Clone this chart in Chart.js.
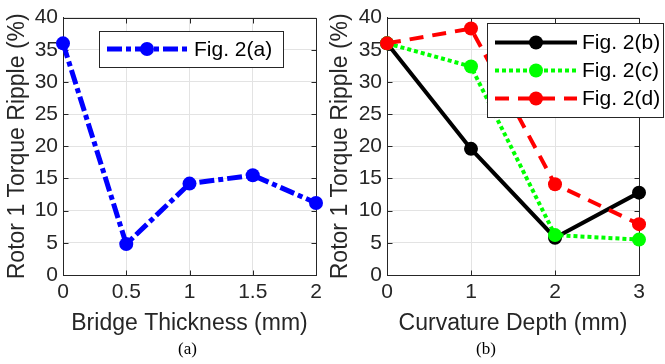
<!DOCTYPE html>
<html>
<head>
<meta charset="utf-8">
<script src="https://cdn.jsdelivr.net/npm/chart.js@4"></script>
<style>
  body { margin: 0; background: #fff; width: 665px; height: 364px; overflow: hidden; position: relative; }
  canvas { position: absolute; left: 0; top: 0; }
  .cap { position: absolute; font-family: "Liberation Serif", "Times New Roman", serif; font-size: 17px; color: #000; line-height: 1; }
</style>
</head>
<body>
<canvas id="chartA" width="665" height="364"></canvas>
<canvas id="chartB" width="665" height="364"></canvas>
<div class="cap" style="left:178px; top:340px;">(a)</div>
<div class="cap" style="left:476px; top:340px;">(b)</div>
<script>
// values
const thickness = [0, 0.5, 1, 1.5, 2];
const rippleA = [36, 4.8, 14.2, 15.5, 11.2];

const depth = [0, 1, 2, 3];
const rippleB = [36, 19.6, 5.8, 12.8];
const rippleC = [36, 32.4, 6.2, 5.5];
const rippleD = [36, 38.3, 14.1, 7.9];

const FONT = '"Liberation Sans", Arial, Helvetica, sans-serif';
const AXIS_COLOR = '#262626';

const pts = (xs, ys) => xs.map((x, i) => ({ x: x, y: ys[i] }));

// top/right sides of the axes box + inward tick marks (matlab "box on")
const frame = {
    id: 'frame',
    beforeDatasetsDraw(chart) {
        const { ctx, chartArea: a, scales } = chart;
        const L = Math.round(a.left) + 0.5, R = Math.round(a.right) + 0.5;
        const T = Math.round(a.top) + 0.5, B = Math.round(a.bottom) + 0.5;
        const len = 5;
        ctx.save();
        ctx.strokeStyle = AXIS_COLOR;
        ctx.lineWidth = 1;
        ctx.beginPath();
        ctx.moveTo(L, T);
        ctx.lineTo(R, T);
        ctx.lineTo(R, B);
        scales.x.ticks.forEach(t => {
            const px = Math.round(scales.x.getPixelForValue(t.value)) + 0.5;
            ctx.moveTo(px, B); ctx.lineTo(px, B - len);
            ctx.moveTo(px, T); ctx.lineTo(px, T + len);
        });
        scales.y.ticks.forEach(t => {
            const py = Math.round(scales.y.getPixelForValue(t.value)) + 0.5;
            ctx.moveTo(L, py); ctx.lineTo(L + len, py);
            ctx.moveTo(R, py); ctx.lineTo(R - len, py);
        });
        ctx.stroke();
        ctx.restore();
    }
};

// matlab style legend box with line + marker samples
const boxLegend = {
    id: 'boxLegend',
    afterDatasetsDraw(chart, args, opts) {
        const ctx = chart.ctx;
        ctx.save();
        ctx.fillStyle = '#fff';
        ctx.fillRect(opts.x, opts.y, opts.w, opts.h);
        ctx.strokeStyle = AXIS_COLOR;
        ctx.lineWidth = 1;
        ctx.strokeRect(opts.x + 0.5, opts.y + 0.5, opts.w, opts.h);
        opts.items.forEach((idx, i) => {
            const ds = chart.data.datasets[idx];
            const y = opts.rowY[i];
            ctx.beginPath();
            ctx.setLineDash(ds.borderDash || []);
            ctx.lineWidth = ds.borderWidth;
            ctx.strokeStyle = ds.borderColor;
            ctx.moveTo(opts.lineX0, y);
            ctx.lineTo(opts.lineX1, y);
            ctx.stroke();
            ctx.setLineDash([]);
            ctx.beginPath();
            ctx.arc(opts.markX, y, ds.pointRadius, 0, Math.PI * 2);
            ctx.fillStyle = ds.backgroundColor;
            ctx.fill();
            ctx.fillStyle = '#000';
            ctx.font = '21px ' + FONT;
            ctx.textBaseline = 'middle';
            ctx.fillText(ds.label, opts.textX, y + 1);
        });
        ctx.restore();
    }
};

function axes(xMax, xStep, xTitle, yWidth) {
    return {
        x: {
            type: 'linear', min: 0, max: xMax,
            afterFit: s => { s.height = 62; },
            ticks: { stepSize: xStep, color: AXIS_COLOR, padding: 5, font: { family: FONT, size: 21 },
                     callback: v => String(v) },
            grid: { color: '#e3e3e3', drawTicks: false },
            border: { color: AXIS_COLOR, width: 1 },
            title: { display: true, text: xTitle, color: AXIS_COLOR, padding: 0, font: { family: FONT, size: 23 } }
        },
        y: {
            min: 0, max: 40,
            afterFit: s => { s.width = yWidth; },
            ticks: { stepSize: 5, color: AXIS_COLOR, padding: 5, font: { family: FONT, size: 21 } },
            grid: { color: '#e3e3e3', drawTicks: false },
            border: { color: AXIS_COLOR, width: 1 },
            title: { display: true, text: 'Rotor 1 Torque Ripple (%)', color: AXIS_COLOR, padding: 0, font: { family: FONT, size: 23 } }
        }
    };
}

const chartA = new Chart(document.getElementById('chartA').getContext('2d'), {
    type: 'line',
    data: {
        datasets: [{
            label: 'Fig. 2(a)',
            data: pts(thickness, rippleA),
            borderColor: '#0000ff',
            backgroundColor: '#0000ff',
            borderWidth: 5,
            borderDash: [15, 4, 5, 4],
            pointRadius: 7,
            pointBorderWidth: 0,
            clip: false,
        }]
    },
    options: {
        responsive: false,
        animation: false,
        layout: { padding: { left: 4, right: 349, top: 17, bottom: 27 } },
        scales: axes(2, 0.5, 'Bridge Thickness (mm)', 59),
        plugins: {
            legend: { display: false },
            tooltip: { enabled: false },
            boxLegend: { x: 99, y: 31, w: 184, h: 36, rowY: [49], lineX0: 107, lineX1: 188, markX: 147, textX: 194, items: [0] }
        }
    },
    plugins: [frame, boxLegend]
});

const chartB = new Chart(document.getElementById('chartB').getContext('2d'), {
    type: 'line',
    data: {
        datasets: [
            {
                label: 'Fig. 2(b)',
                data: pts(depth, rippleB),
                borderColor: '#000000',
                backgroundColor: '#000000',
                borderWidth: 4,
                borderDash: [],
                pointRadius: 7,
                pointBorderWidth: 0,
                clip: false,
                order: 3,
            },
            {
                label: 'Fig. 2(c)',
                data: pts(depth, rippleC),
                borderColor: '#00ff00',
                backgroundColor: '#00ff00',
                borderWidth: 4,
                borderDash: [4, 3],
                pointRadius: 7,
                pointBorderWidth: 0,
                clip: false,
                order: 2,
            },
            {
                label: 'Fig. 2(d)',
                data: pts(depth, rippleD),
                borderColor: '#ff0000',
                backgroundColor: '#ff0000',
                borderWidth: 4,
                borderDash: [14, 9],
                pointRadius: 7,
                pointBorderWidth: 0,
                clip: false,
                order: 1,
            }
        ]
    },
    options: {
        responsive: false,
        animation: false,
        layout: { padding: { left: 327, right: 26, top: 17, bottom: 27 } },
        scales: axes(3, 1, 'Curvature Depth (mm)', 60),
        plugins: {
            legend: { display: false },
            tooltip: { enabled: false },
            boxLegend: { x: 487, y: 23, w: 176, h: 94, rowY: [42.5, 70.5, 98.5], lineX0: 495, lineX1: 577, markX: 536, textX: 582, items: [0, 1, 2] }
        }
    },
    plugins: [frame, boxLegend]
});
</script>
</body>
</html>
